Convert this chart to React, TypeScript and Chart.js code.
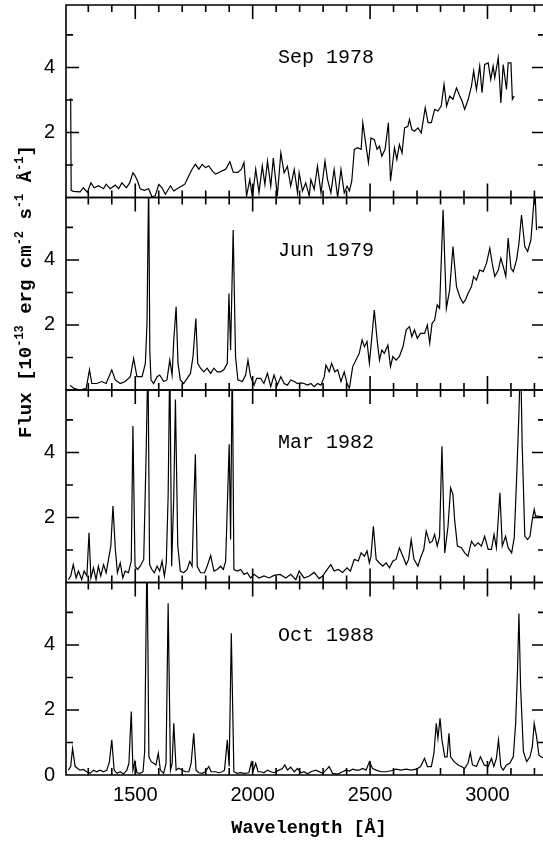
import React, { useEffect, useRef } from 'react';
import { Chart, registerables } from 'chart.js';

Chart.register(...registerables);

// ---------------- data ----------------
const X_MIN = 1205;
const X_MAX = 3245;
const Y_MAX = 5.92;

const xTickLabels = [1500, 2000, 2500, 3000];
const xTickMarks = [1300, 1400, 1500, 1600, 1700, 1800, 1900, 2000, 2100, 2200, 2300, 2400, 2500, 2600, 2700, 2800, 2900, 3000, 3100, 3200];
const yTickLabelsUpper = [2, 4];
const yTickLabelsBottom = [0, 2, 4];
const yTickMarks = [1, 2, 3, 4, 5];

const panelLabels = ['Sep 1978', 'Jun 1979', 'Mar 1982', 'Oct 1988'];
const xAxisTitle = 'Wavelength [Å]';
const yAxisTitleParts = [
  { text: 'Flux [10', sup: false },
  { text: '-13', sup: true },
  { text: ' erg cm', sup: false },
  { text: '-2', sup: true },
  { text: ' s', sup: false },
  { text: '-1', sup: true },
  { text: ' Å', sup: false },
  { text: '-1', sup: true },
  { text: ']', sup: false },
];

const sepWl = [1225, 1227, 1236, 1265, 1279, 1296, 1311, 1325, 1343, 1365,
  1376, 1393, 1415, 1429, 1443, 1462, 1476, 1490, 1500, 1510,
  1521, 1538, 1557, 1571, 1585, 1600, 1614, 1628, 1650, 1664,
  1678, 1700, 1711, 1728, 1742, 1756, 1771, 1785, 1799, 1813,
  1828, 1842, 1856, 1870, 1885, 1903, 1917, 1937, 1952, 1963,
  1974, 1988, 1999, 2013, 2027, 2041, 2052, 2063, 2077, 2088,
  2105, 2120, 2134, 2148, 2162, 2177, 2191, 2198, 2212, 2226,
  2241, 2248, 2262, 2276, 2291, 2308, 2319, 2333, 2347, 2362,
  2376, 2390, 2402, 2412, 2422, 2433, 2447, 2462, 2469, 2483,
  2493, 2504, 2518, 2530, 2540, 2550, 2564, 2578, 2587, 2604,
  2614, 2625, 2636, 2647, 2661, 2668, 2678, 2689, 2704, 2718,
  2735, 2747, 2761, 2775, 2789, 2803, 2815, 2826, 2839, 2853,
  2868, 2882, 2892, 2903, 2918, 2932, 2941, 2953, 2967, 2977,
  2988, 3003, 3014, 3024, 3031, 3046, 3057, 3067, 3081, 3088,
  3100, 3106, 3114];
const sepFlux = [3.05, 0.22, 0.19, 0.17, 0.30, 0.16, 0.45, 0.30, 0.36, 0.27,
  0.41, 0.27, 0.38, 0.27, 0.45, 0.30, 0.45, 0.76, 0.66, 0.50,
  0.27, 0.22, 0.27, 0.02, 0.05, 0.40, 0.30, 0.10, 0.36, 0.20,
  0.27, 0.36, 0.41, 0.67, 0.87, 1.02, 0.87, 1.02, 0.92, 0.97,
  0.82, 0.72, 0.77, 0.82, 0.87, 1.10, 0.78, 0.77, 0.87, 1.08,
  0.05, 0.55, 0.00, 0.87, 0.15, 0.97, 0.40, 1.12, 0.35, 1.21,
  0.05, 1.37, 0.76, 0.96, 0.35, 0.86, 0.14, 0.76, 0.20, 0.45,
  0.05, 0.55, 0.25, 0.96, 0.14, 1.12, 0.55, 0.14, 0.86, 0.00,
  0.86, 0.14, 0.35, 0.20, 0.50, 1.48, 1.53, 1.48, 2.30, 1.58,
  1.07, 1.83, 1.78, 1.48, 1.58, 1.27, 1.48, 2.30, 0.50, 1.53,
  1.17, 1.63, 1.37, 2.14, 2.19, 2.40, 2.09, 2.04, 2.14, 1.99,
  2.76, 2.30, 2.30, 2.71, 2.66, 2.81, 3.48, 2.81, 3.12, 3.02,
  3.37, 3.12, 2.96, 2.71, 3.02, 3.43, 3.89, 3.32, 4.04, 3.22,
  4.09, 4.14, 3.63, 4.04, 3.68, 4.30, 2.91, 4.09, 3.32, 4.14,
  4.14, 3.02, 3.12];

const junWl = [1222, 1239, 1265, 1291, 1305, 1315, 1336, 1358, 1376, 1400,
  1415, 1436, 1457, 1479, 1493, 1507, 1529, 1543, 1550, 1557,
  1562, 1567, 1578, 1593, 1604, 1621, 1635, 1647, 1657, 1664,
  1674, 1682, 1692, 1706, 1721, 1735, 1746, 1758, 1766, 1778,
  1792, 1806, 1821, 1835, 1849, 1863, 1877, 1892, 1899, 1906,
  1917, 1927, 1937, 1956, 1970, 1980, 1991, 2006, 2017, 2034,
  2048, 2063, 2077, 2091, 2105, 2120, 2134, 2148, 2162, 2177,
  2191, 2205, 2219, 2234, 2248, 2262, 2276, 2291, 2305, 2312,
  2326, 2336, 2350, 2362, 2376, 2390, 2402, 2412, 2426, 2440,
  2454, 2466, 2476, 2487, 2497, 2509, 2518, 2530, 2540, 2550,
  2561, 2576, 2587, 2597, 2611, 2625, 2640, 2654, 2668, 2678,
  2689, 2701, 2715, 2732, 2744, 2754, 2764, 2775, 2786, 2796,
  2811, 2825, 2839, 2853, 2868, 2882, 2896, 2906, 2917, 2932,
  2941, 2953, 2967, 2982, 2996, 3010, 3020, 3031, 3046, 3057,
  3067, 3078, 3088, 3100, 3110, 3124, 3134, 3145, 3159, 3171,
  3185, 3195, 3202, 3209];
const junFlux = [0.15, 0.05, 0.00, 0.05, 0.62, 0.20, 0.20, 0.26, 0.20, 0.62,
  0.31, 0.20, 0.26, 0.41, 0.97, 0.41, 0.41, 0.82, 2.05, 6.50,
  1.20, 0.31, 0.20, 0.41, 0.46, 0.26, 0.31, 0.92, 0.46, 1.54,
  2.56, 0.82, 0.31, 0.20, 0.36, 0.51, 1.03, 2.20, 0.82, 0.67,
  0.56, 0.67, 0.51, 0.67, 0.56, 0.56, 0.62, 0.82, 2.97, 1.23,
  4.92, 1.03, 0.31, 0.26, 0.46, 0.92, 0.41, 0.15, 0.36, 0.36,
  0.20, 0.51, 0.10, 0.46, 0.15, 0.41, 0.20, 0.15, 0.31, 0.26,
  0.20, 0.22, 0.20, 0.15, 0.20, 0.10, 0.20, 0.15, 0.41, 0.77,
  0.56, 0.82, 0.56, 0.62, 0.26, 0.56, 0.20, 0.05, 0.72, 0.92,
  1.13, 1.54, 1.33, 1.49, 0.82, 1.74, 2.46, 1.54, 0.92, 1.23,
  1.13, 1.38, 0.72, 1.03, 0.92, 1.03, 1.33, 1.85, 1.95, 1.64,
  1.85, 1.59, 1.74, 1.74, 2.00, 1.44, 2.05, 2.15, 2.62, 2.51,
  5.54, 2.51, 3.08, 4.41, 3.18, 2.87, 2.67, 2.77, 2.97, 3.18,
  3.49, 3.38, 3.69, 3.64, 3.90, 4.36, 3.90, 3.49, 3.69, 4.05,
  3.80, 3.49, 4.67, 3.74, 3.64, 4.00, 4.51, 5.38, 4.41, 4.26,
  4.62, 5.54, 6.20, 4.92];

const marWl = [1215, 1225, 1236, 1248, 1258, 1272, 1282, 1294, 1303, 1311,
  1322, 1333, 1343, 1353, 1365, 1376, 1386, 1396, 1405, 1415,
  1424, 1436, 1447, 1457, 1471, 1483, 1490, 1499, 1510, 1521,
  1536, 1547, 1554, 1561, 1571, 1581, 1593, 1604, 1614, 1624,
  1632, 1640, 1647, 1655, 1664, 1671, 1681, 1692, 1706, 1721,
  1732, 1742, 1749, 1756, 1764, 1778, 1795, 1806, 1821, 1835,
  1849, 1863, 1875, 1885, 1892, 1900, 1906, 1913, 1920, 1935,
  1949, 1963, 1977, 1991, 2006, 2027, 2048, 2070, 2091, 2117,
  2141, 2162, 2184, 2198, 2219, 2241, 2262, 2283, 2298, 2312,
  2333, 2347, 2365, 2383, 2402, 2416, 2433, 2450, 2462, 2476,
  2487, 2497, 2504, 2514, 2526, 2540, 2554, 2568, 2583, 2597,
  2611, 2625, 2640, 2654, 2664, 2675, 2687, 2704, 2715, 2729,
  2739, 2754, 2765, 2775, 2786, 2796, 2806, 2818, 2832, 2843,
  2853, 2860, 2872, 2889, 2903, 2917, 2932, 2946, 2960, 2974,
  2988, 3003, 3017, 3028, 3038, 3053, 3063, 3077, 3088, 3103,
  3114, 3124, 3134, 3141, 3148, 3159, 3171, 3181, 3191, 3199,
  3205, 3214, 3245];
const marFlux = [0.09, 0.20, 0.55, 0.14, 0.35, 0.09, 0.35, 0.20, 1.53, 0.14,
  0.45, 0.09, 0.50, 0.20, 0.55, 0.30, 0.71, 1.13, 2.35, 1.03,
  0.30, 0.60, 0.14, 0.35, 0.30, 0.66, 4.81, 0.50, 0.40, 0.50,
  0.71, 4.20, 7.00, 0.55, 0.40, 0.30, 0.50, 0.35, 0.66, 0.20,
  0.60, 2.66, 7.00, 0.50, 2.66, 5.63, 1.13, 0.35, 0.30, 0.40,
  0.65, 0.50, 2.35, 3.94, 0.50, 0.30, 0.30, 0.50, 0.83, 0.35,
  0.40, 0.50, 0.40, 0.66, 2.35, 4.25, 1.32, 7.00, 0.40, 0.35,
  0.40, 0.25, 0.30, 0.14, 0.25, 0.14, 0.20, 0.14, 0.22, 0.25,
  0.14, 0.25, 0.09, 0.35, 0.14, 0.20, 0.31, 0.12, 0.20, 0.35,
  0.55, 0.35, 0.40, 0.31, 0.45, 0.35, 0.71, 0.66, 0.91, 0.81,
  0.97, 0.60, 0.81, 1.73, 0.71, 0.60, 0.50, 0.60, 0.45, 0.66,
  0.71, 1.07, 0.81, 0.55, 0.71, 1.32, 0.71, 0.50, 0.76, 1.02,
  1.58, 1.22, 1.27, 1.48, 1.12, 1.42, 4.19, 0.91, 1.73, 2.91,
  2.71, 1.94, 1.12, 1.07, 0.91, 0.81, 1.27, 1.12, 1.22, 1.12,
  1.42, 1.02, 1.02, 1.48, 1.07, 2.76, 1.12, 1.42, 1.07, 0.91,
  1.38, 3.17, 5.22, 7.00, 4.19, 1.42, 1.32, 1.42, 1.94, 2.25,
  2.04, 2.04, 2.00];

const octWl = [1215, 1225, 1233, 1244, 1254, 1265, 1279, 1293, 1308, 1322,
  1336, 1350, 1365, 1379, 1390, 1400, 1410, 1422, 1436, 1450,
  1464, 1473, 1483, 1490, 1498, 1507, 1521, 1533, 1540, 1550,
  1558, 1568, 1578, 1588, 1598, 1607, 1621, 1631, 1640, 1650,
  1657, 1664, 1674, 1685, 1700, 1714, 1728, 1738, 1749, 1759,
  1771, 1785, 1799, 1813, 1823, 1842, 1856, 1870, 1880, 1892,
  1900, 1909, 1920, 1934, 1949, 1963, 1984, 1994, 2003, 2013,
  2023, 2034, 2048, 2063, 2077, 2091, 2112, 2127, 2137, 2148,
  2162, 2177, 2191, 2205, 2219, 2234, 2248, 2269, 2298, 2312,
  2326, 2340, 2362, 2383, 2397, 2412, 2426, 2440, 2454, 2469,
  2483, 2497, 2511, 2526, 2547, 2568, 2590, 2611, 2632, 2654,
  2675, 2697, 2715, 2732, 2744, 2761, 2772, 2782, 2789, 2798,
  2806, 2818, 2828, 2836, 2843, 2858, 2875, 2889, 2903, 2917,
  2927, 2936, 2953, 2970, 2986, 3003, 3017, 3027, 3038, 3047,
  3057, 3067, 3081, 3095, 3110, 3120, 3128, 3134, 3141, 3153,
  3167, 3181, 3191, 3199, 3209, 3219, 3228, 3245];
const octFlux = [0.15, 0.26, 0.82, 0.26, 0.21, 0.15, 0.17, 0.10, 0.05, 0.15,
  0.10, 0.15, 0.10, 0.15, 0.41, 1.08, 0.15, 0.05, 0.10, 0.03,
  0.15, 0.36, 1.95, 0.15, 0.41, 0.07, 0.05, 0.10, 0.72, 7.00,
  0.56, 0.41, 0.36, 0.31, 0.67, 0.15, 0.05, 0.36, 5.28, 0.15,
  0.36, 1.59, 0.15, 0.21, 0.15, 0.10, 0.10, 0.36, 1.28, 0.15,
  0.07, 0.05, 0.10, 0.26, 0.10, 0.10, 0.07, 0.10, 0.15, 1.08,
  0.26, 4.36, 0.10, 0.05, 0.07, 0.05, 0.07, 0.38, 0.15, 0.36,
  0.10, 0.10, 0.07, 0.15, 0.10, 0.07, 0.15, 0.20, 0.31, 0.15,
  0.24, 0.10, 0.20, 0.07, 0.10, 0.03, 0.10, 0.15, 0.05, 0.15,
  0.26, 0.05, 0.03, 0.10, 0.15, 0.12, 0.18, 0.15, 0.15, 0.20,
  0.15, 0.41, 0.20, 0.15, 0.10, 0.10, 0.13, 0.18, 0.15, 0.18,
  0.15, 0.18, 0.26, 0.51, 0.26, 0.26, 0.67, 1.59, 1.13, 1.74,
  1.08, 0.56, 0.56, 1.28, 0.56, 0.41, 0.31, 0.26, 0.20, 0.36,
  0.69, 0.31, 0.26, 0.56, 0.31, 0.26, 0.51, 0.26, 0.51, 1.08,
  0.26, 0.15, 0.31, 0.36, 0.56, 1.59, 3.23, 4.97, 2.72, 0.72,
  0.41, 0.56, 0.87, 1.59, 1.18, 0.62, 0.56, 0.50];

// ---------------- chart ----------------
const MONO = '"Liberation Mono", "DejaVu Sans Mono", monospace';
const SANS = '"Liberation Sans", Arial, Helvetica, sans-serif';
const panelIds = ['y1', 'y2', 'y3', 'y4'];
const seriesWl = [sepWl, junWl, marWl, octWl];
const seriesFlux = [sepFlux, junFlux, marFlux, octFlux];

const panelPlugin = {
  id: 'panelFrames',
  beforeDatasetDraw(chart: any, args: any) {
    const meta = chart.getDatasetMeta(args.index);
    const ys = chart.scales[meta.yAxisID];
    const { ctx, chartArea } = chart;
    ctx.save();
    ctx.beginPath();
    ctx.rect(chartArea.left, ys.top, chartArea.right - chartArea.left, ys.bottom - ys.top);
    ctx.clip();
  },
  afterDatasetDraw(chart: any) {
    chart.ctx.restore();
  },
  afterDraw(chart: any) {
    const { ctx, chartArea } = chart;
    const xs = chart.scales.x;
    const l = chartArea.left;
    const r = chartArea.right;
    ctx.save();
    ctx.strokeStyle = '#000';
    ctx.fillStyle = '#000';
    ctx.lineWidth = 1.6;
    panelIds.forEach((id, i) => {
      const ys = chart.scales[id];
      const top = ys.top;
      const bot = ys.bottom;
      ctx.beginPath();
      ctx.rect(l, top, r - l, bot - top);
      ctx.stroke();
      ctx.beginPath();
      xTickMarks.forEach((v) => {
        const px = xs.getPixelForValue(v);
        const len = xTickLabels.includes(v) ? 14 : 7;
        ctx.moveTo(px, top);
        ctx.lineTo(px, top + len);
        ctx.moveTo(px, bot);
        ctx.lineTo(px, bot - len);
      });
      yTickMarks.forEach((v) => {
        const py = ys.getPixelForValue(v);
        const len = v % 2 === 0 ? 13 : 7;
        ctx.moveTo(l, py);
        ctx.lineTo(l + len, py);
        ctx.moveTo(r, py);
        ctx.lineTo(r - len, py);
      });
      ctx.stroke();
      ctx.font = `20px ${MONO}`;
      ctx.textAlign = 'left';
      ctx.textBaseline = 'middle';
      ctx.fillText(panelLabels[i], l + 212, top + 53);
    });

    // x axis title
    ctx.font = `bold 18.5px ${MONO}`;
    ctx.textAlign = 'center';
    ctx.textBaseline = 'middle';
    ctx.fillText(xAxisTitle, 309, 828);

    // y axis title with superscripts
    ctx.save();
    ctx.translate(31, 438);
    ctx.rotate(-Math.PI / 2);
    ctx.textAlign = 'left';
    ctx.textBaseline = 'alphabetic';
    let off = 0;
    yAxisTitleParts.forEach((p) => {
      ctx.font = p.sup ? `bold 12px ${MONO}` : `bold 19px ${MONO}`;
      ctx.fillText(p.text, off, p.sup ? -8 : 0);
      off += ctx.measureText(p.text).width;
    });
    ctx.restore();
    ctx.restore();
  },
};

function makeYScale(idx: number) {
  const labels = idx === 3 ? yTickLabelsBottom : yTickLabelsUpper;
  return {
    type: 'linear',
    position: 'left',
    stack: 'panels',
    stackWeight: 1,
    weight: 4 - idx,
    min: 0,
    max: Y_MAX,
    grid: { display: false, drawTicks: false },
    border: { display: false },
    ticks: {
      color: '#000',
      font: { family: SANS, size: 20 },
      padding: 11,
      callback: (v: any) => String(v),
    },
    afterBuildTicks: (s: any) => {
      s.ticks = labels.map((v) => ({ value: v }));
    },
    afterFit: (s: any) => {
      s.width = 66;
      s.paddingTop = 0;
      s.paddingBottom = 0;
    },
  };
}

export default function App() {
  const ref = useRef<HTMLCanvasElement>(null);
  useEffect(() => {
    if (!ref.current) return;
    const datasets = panelIds.map((id, i) => ({
      label: panelLabels[i],
      data: seriesWl[i].map((w, j) => ({ x: w, y: seriesFlux[i][j] })),
      yAxisID: id,
      borderColor: '#000',
      borderWidth: 1.2,
      pointRadius: 0,
      tension: 0,
      fill: false,
    }));
    const scales: any = {
      x: {
        type: 'linear',
        position: 'bottom',
        min: X_MIN,
        max: X_MAX,
        grid: { display: false, drawTicks: false },
        border: { display: false },
        ticks: {
          color: '#000',
          font: { family: SANS, size: 20 },
          padding: 8,
          maxRotation: 0,
          callback: (v: any) => String(v),
        },
        afterBuildTicks: (s: any) => {
          s.ticks = xTickLabels.map((v) => ({ value: v }));
        },
        afterFit: (s: any) => {
          s.height = 68;
          s.paddingLeft = 0;
          s.paddingRight = 0;
        },
      },
    };
    panelIds.forEach((id, i) => {
      scales[id] = makeYScale(i);
    });
    const chart = new Chart(ref.current, {
      type: 'line',
      data: { datasets } as any,
      options: {
        responsive: false,
        animation: false,
        devicePixelRatio: 1,
        layout: { padding: { top: 5, right: 3, left: 0, bottom: 0 } },
        plugins: { legend: { display: false }, tooltip: { enabled: false }, title: { display: false } },
        scales,
      } as any,
      plugins: [panelPlugin as any],
    });
    return () => chart.destroy();
  }, []);
  return (
    <div style={{ position: 'absolute', left: 0, top: 0, width: 543, height: 843, overflow: 'hidden', background: '#fff' }}>
      <canvas ref={ref} width={548} height={843} style={{ display: 'block', width: 548, height: 843 }} />
    </div>
  );
}
